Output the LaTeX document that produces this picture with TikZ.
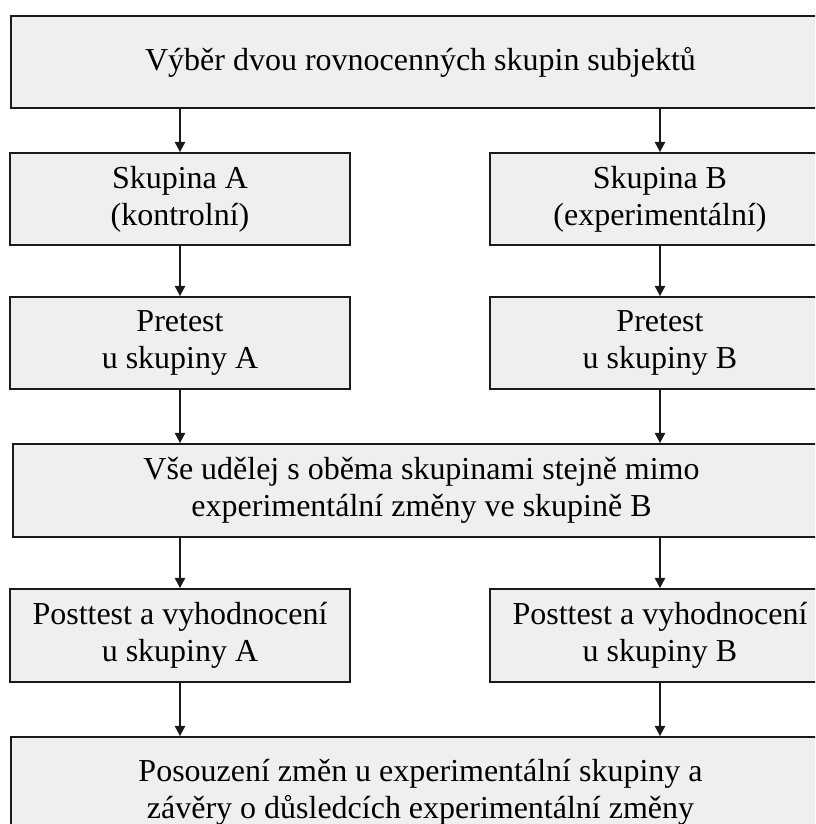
\documentclass[tikz,border=0pt]{standalone}
\usepackage{fontspec}
\setmainfont{Liberation Serif}
\usepackage{tikz}
\usetikzlibrary{arrows.meta, calc, positioning}
\definecolor{Ink}{HTML}{1A1A1A}
\definecolor{BoxFill}{HTML}{EFEFEF}
\tikzset{
  stage/.style={draw=Ink, fill=BoxFill, line width=1.0pt, align=center, inner sep=0pt,
    font=\fontsize{18.2}{21}\selectfont, text=black},
  flow/.style={-{Triangle[width=5.8pt, length=5.8pt]}, line width=1.1pt, color=Ink},
}

\begin{document}
\begin{tikzpicture}[scale=1.0]
  \useasboundingbox (0,0) rectangle (16.3,-16.48);
  \clip (0,0) rectangle (16.3,-16.48);

  % Selection of groups
  \node[stage, minimum width=16.38cm, minimum height=1.84cm] (select) at (8.41,-1.24)
    {Výběr dvou rovnocenných skupin subjektů};

  % Groups
  \node[stage, minimum width=6.8cm, minimum height=1.84cm] (groupA) at (3.6,-3.98)
    {Skupina A\\(kontrolní)};
  \node[stage, minimum width=6.8cm, minimum height=1.84cm] (groupB) at (13.2,-3.98)
    {Skupina B\\(experimentální)};

  % Pretests
  \node[stage, minimum width=6.8cm, minimum height=1.84cm] (preA) at (3.6,-6.86)
    {Pretest\\u skupiny A};
  \node[stage, minimum width=6.8cm, minimum height=1.84cm] (preB) at (13.2,-6.86)
    {Pretest\\u skupiny B};

  % Common treatment
  \node[stage, minimum width=16.34cm, minimum height=1.86cm] (treat) at (8.43,-9.81)
    {Vše udělej s oběma skupinami stejně mimo\\experimentální změny ve skupině B};

  % Posttests
  \node[stage, minimum width=6.8cm, minimum height=1.86cm] (postA) at (3.6,-12.71)
    {Posttest a vyhodnocení\\u skupiny A};
  \node[stage, minimum width=6.8cm, minimum height=1.86cm] (postB) at (13.2,-12.71)
    {Posttest a vyhodnocení\\u skupiny B};

  % Evaluation
  \node[stage, minimum width=16.38cm, minimum height=2.2cm] (judge) at (8.41,-15.84)
    {Posouzení změn u experimentální skupiny a\\závěry o důsledcích experimentální změny};

  % Connectors
  \draw[flow] (select.south -| groupA) -- (groupA.north);
  \draw[flow] (select.south -| groupB) -- (groupB.north);
  \draw[flow] (groupA) -- (preA);
  \draw[flow] (groupB) -- (preB);
  \draw[flow] (preA.south) -- (treat.north -| preA);
  \draw[flow] (preB.south) -- (treat.north -| preB);
  \draw[flow] (treat.south -| postA) -- (postA.north);
  \draw[flow] (treat.south -| postB) -- (postB.north);
  \draw[flow] (postA.south) -- (judge.north -| postA);
  \draw[flow] (postB.south) -- (judge.north -| postB);
\end{tikzpicture}
\end{document}
